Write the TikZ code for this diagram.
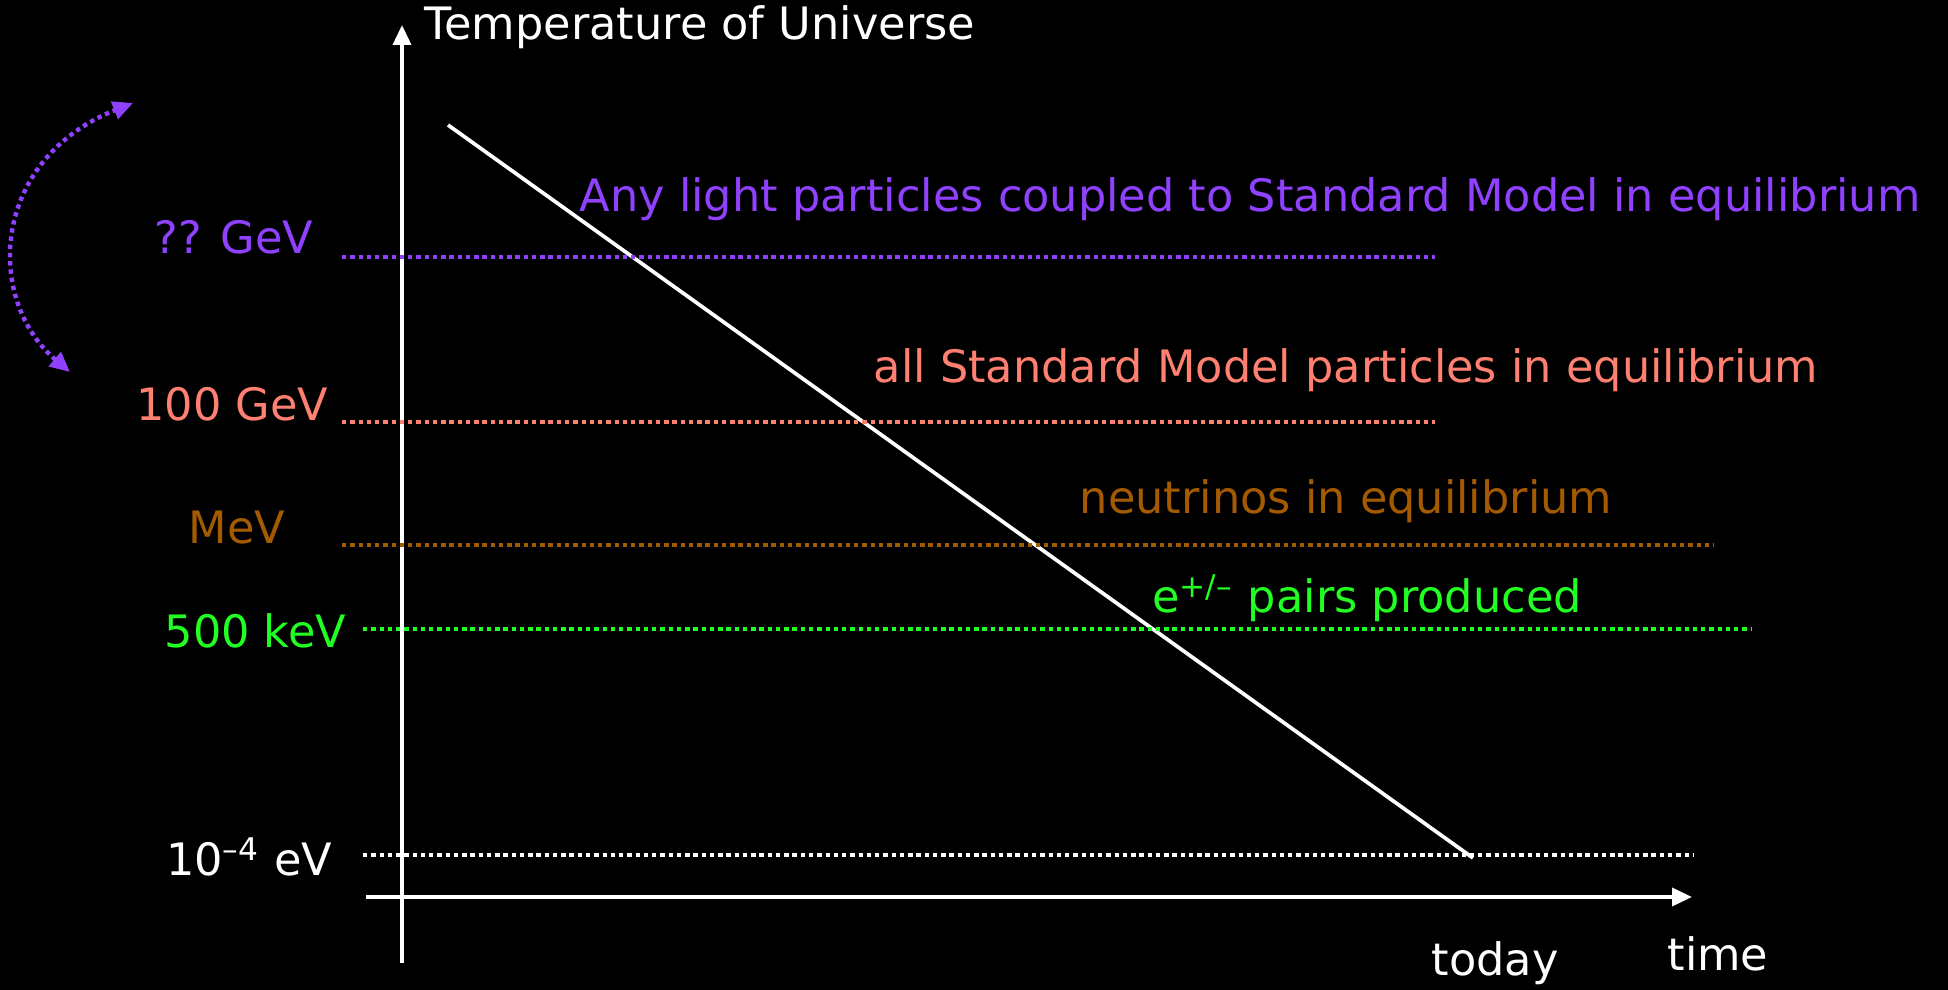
\documentclass[tikz,border=0pt]{standalone}
\usepackage{fontspec}
\setmainfont{DejaVu Sans}
\usepackage{xcolor}
\usetikzlibrary{arrows.meta}
\definecolor{lilac}{HTML}{9040FF}
\definecolor{salmon}{HTML}{FF8070}
\definecolor{umber}{HTML}{A35A00}
\definecolor{neon}{HTML}{22FF22}

\begin{document}
\begin{tikzpicture}[
  font=\fontsize{12.7pt}{15pt}\selectfont,
  inner sep=0pt,
  tip/.style={-{Triangle[length=2mm, width=1.8mm]}},
  ax/.style={tip, draw=white, line width=1.05pt},
  lvl/.style={line width=1.25pt, dash pattern=on 1.25pt off 1.1pt},
  swing/.style={{Triangle[length=2mm, width=1.8mm]}-{Triangle[length=2mm, width=1.8mm]},
                lvl, draw=lilac, fill=none},
  lbl/.style={anchor=east},
]
\fill[black] (0,0) rectangle (19.48,9.90);
\useasboundingbox (0,0) rectangle (19.48,9.90);
% ---------------- axes
\coordinate (yb) at (4.02,0.27);
\coordinate (yt) at (4.02,9.65);
\coordinate (xl) at (3.66,0.93);
\coordinate (xr) at (16.92,0.93);
\draw[ax] (yb) -- (yt);
\draw[ax] (xl) -- (xr);
\node[white, anchor=west] (ytitle) at (4.24,9.63) {Temperature of Universe};
\node[white] (xtitle) at (17.18,0.36) {time};
\node[white] (today) at (14.95,0.27) {today};
% ---------------- cooling line
\coordinate (hot) at (4.48,8.65);
\coordinate (now) at (14.73,1.32);
\draw[white, line width=1.05pt] (hot) -- (now);
% ---------------- levels
\coordinate (l1a) at (3.42,7.33); \coordinate (l1b) at (14.35,7.33);
\coordinate (l2a) at (3.42,5.68); \coordinate (l2b) at (14.35,5.68);
\coordinate (l3a) at (3.42,4.45); \coordinate (l3b) at (17.14,4.45);
\coordinate (l4a) at (3.63,3.61); \coordinate (l4b) at (17.52,3.61);
\coordinate (l5a) at (3.63,1.35); \coordinate (l5b) at (16.93,1.35);
\draw[lvl, draw=lilac] (l1a) -- (l1b);
\draw[lvl, draw=salmon] (l2a) -- (l2b);
\draw[lvl, draw=umber] (l3a) -- (l3b);
\draw[lvl, draw=neon] (l4a) -- (l4b);
\draw[lvl, draw=white] (l5a) -- (l5b);
\node[lbl, text=lilac] (t1) at (3.14,7.53) {?? GeV};
\node[lbl, text=salmon] (t2) at (3.29,5.86) {100 GeV};
\node[lbl, text=umber] (t3) at (2.86,4.62) {MeV};
\node[lbl, text=neon] (t4) at (3.47,3.59) {500 keV};
\node[lbl, text=white] (t5) at (3.33,1.33) {10\textsuperscript{--4} eV};
\node[text=lilac] (n1) at (12.50,7.91) {Any light particles coupled to Standard Model in equilibrium};
\node[text=salmon] (n2) at (13.46,6.20) {all Standard Model particles in equilibrium};
\node[text=umber] (n3) at (13.46,4.89) {neutrinos in equilibrium};
\node[text=neon] (n4) at (13.67,3.92) {e\textsuperscript{+/--} pairs produced};
% ---------------- unknown scale
\coordinate (swa) at (0.70,6.18);
\coordinate (swb) at (1.33,8.87);
\draw[swing] (swa) .. controls (-0.15,6.9) and (-0.10,8.3) .. (swb);
\end{tikzpicture}
\end{document}
